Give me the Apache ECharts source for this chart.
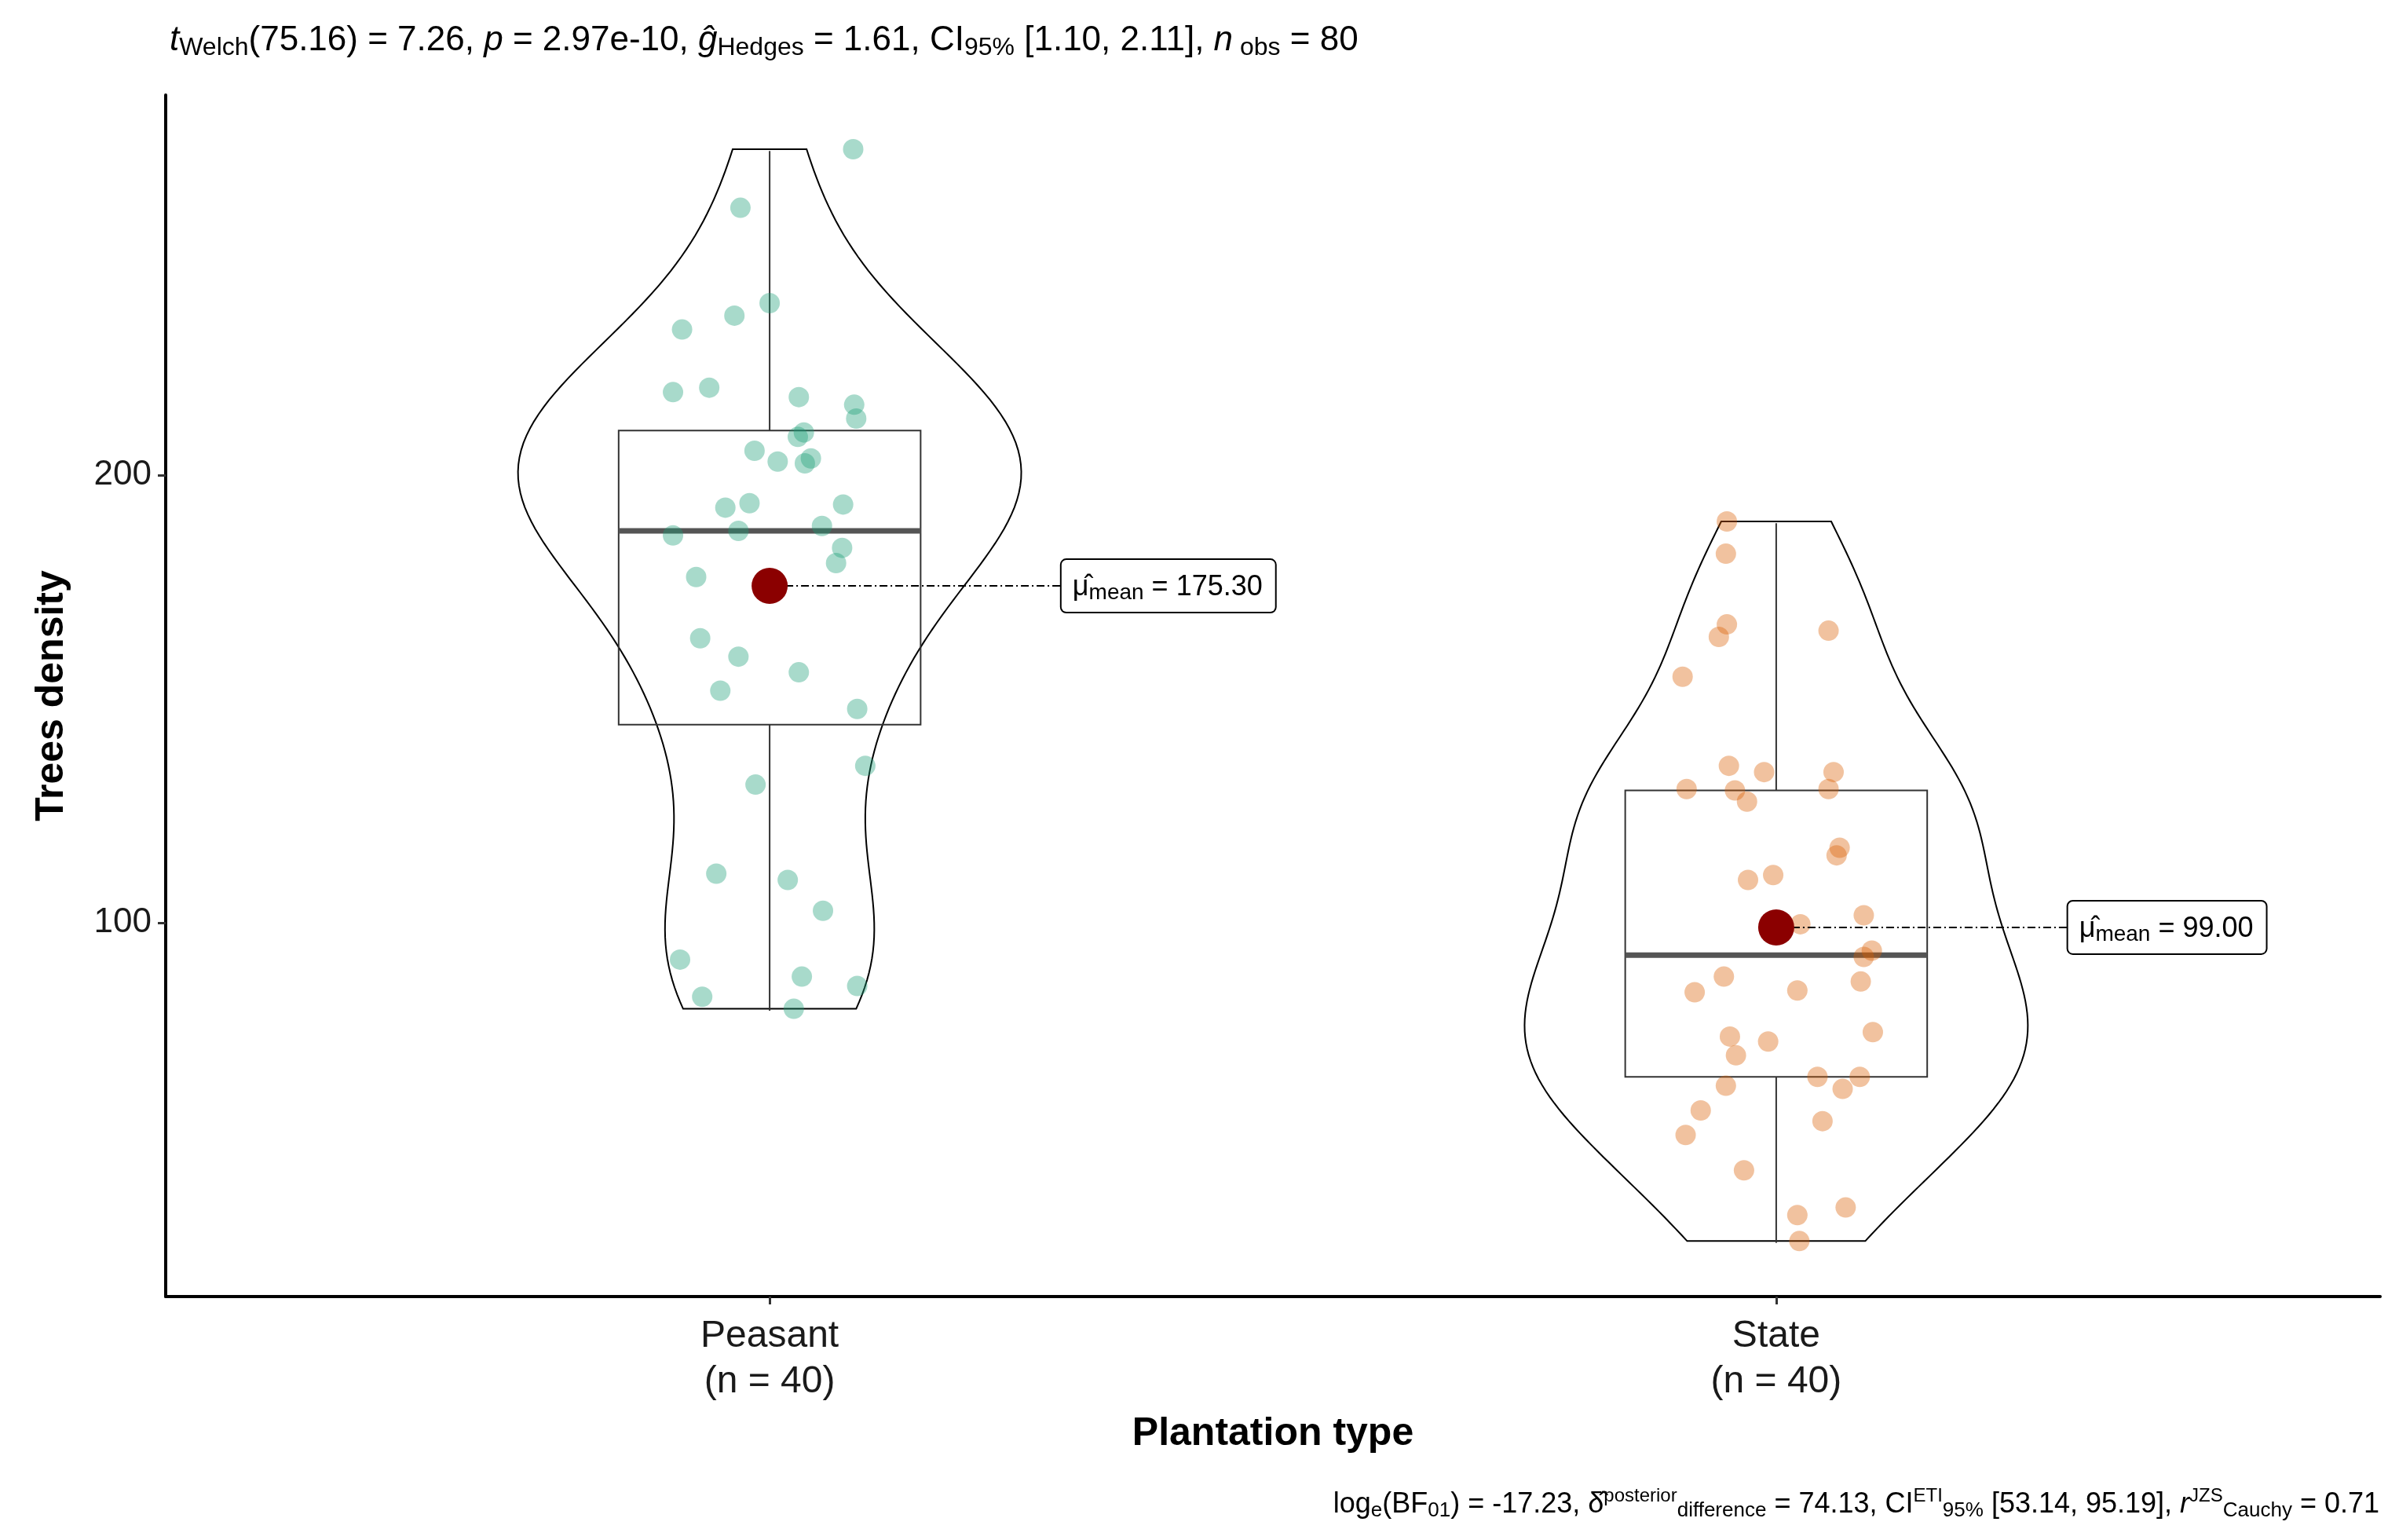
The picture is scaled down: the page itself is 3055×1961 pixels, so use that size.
<!DOCTYPE html>
<html><head><meta charset="utf-8">
<script src="https://cdn.jsdelivr.net/npm/echarts@6/dist/echarts.min.js"></script>
<style>html,body{margin:0;padding:0;background:#fff}#c{width:3055px;height:1961px}</style>
</head><body><div id="c"></div>
<script>
const categories = ['Peasant', 'State'];
const groupN = [40, 40];
const peasantY = [272.9,259.8,238.5,235.7,232.6,219.6,218.6,217.5,215.8,212.7,209.6,208.6,205.5,203.8,202.7,192.8,193.8,193.5,187.6,186.6,188.7,183.8,180.4,177.3,163.6,159.5,156.0,151.9,147.8,135.1,130.9,111.0,109.6,102.7,91.8,88.0,85.9,83.5,80.8,203.1];
const peasantJitter = [0.083,-0.029,0,-0.035,-0.087,-0.060,-0.096,0.029,0.084,0.086,0.034,0.028,-0.015,0.041,0.035,-0.044,-0.020,0.073,-0.031,-0.096,0.052,0.072,0.066,-0.073,-0.069,-0.031,0.029,-0.049,0.087,0.095,-0.014,-0.053,0.018,0.053,-0.089,0.032,0.087,-0.067,0.024,0.008];
const stateY = [189.7,182.5,166.7,163.9,165.3,155.0,135.1,133.7,133.7,129.9,129.6,129.9,127.1,116.8,115.1,109.6,110.7,99.7,101.7,93.8,92.4,86.9,88.0,84.5,84.9,74.6,73.5,75.6,70.4,65.6,65.6,63.6,62.9,58.1,55.7,52.6,44.7,36.4,34.7,28.9];
const stateJitter = [-0.049,-0.050,-0.049,-0.057,0.052,-0.093,-0.047,-0.012,0.057,-0.089,-0.041,0.052,-0.029,0.063,0.060,-0.028,-0.003,0.024,0.087,0.095,0.087,0.084,-0.052,-0.081,0.021,-0.046,-0.008,0.096,-0.040,0.041,0.083,-0.050,0.066,-0.075,0.046,-0.090,-0.032,0.069,0.021,0.023];
// box stats: [whiskerLow, Q1, median, Q3, whiskerHigh]
const boxStats = [[80.4,144.3,187.6,210.0,272.5],[28.5,65.6,92.8,129.6,189.3]];
const means = [175.30, 99.00];
const yTicks = [100, 200];
const colors = ['#1B9E77', '#D95F02'];
const FONT = 'Liberation Sans';

const groups = [peasantY, stateY];
const jitters = [peasantJitter, stateJitter];

function kde(vals){
  const n = vals.length, m = vals.reduce((a,b)=>a+b,0)/n;
  const sd = Math.sqrt(vals.reduce((a,b)=>a+(b-m)*(b-m),0)/(n-1));
  const s = vals.slice().sort((a,b)=>a-b);
  const q = p => { const h=(n-1)*p, l=Math.floor(h); return s[l]+(h-l)*(s[Math.min(l+1,n-1)]-s[l]); };
  const iqr = q(0.75)-q(0.25);
  const bw = 0.9*Math.min(sd, iqr/1.34)*Math.pow(n,-0.2);
  const lo=s[0], hi=s[n-1], pts=[];
  for(let i=0;i<=120;i++){ const y=lo+(hi-lo)*i/120; let d=0; for(const v of vals){const z=(y-v)/bw; d+=Math.exp(-0.5*z*z);} pts.push([y,d]); }
  const mx = Math.max(...pts.map(p=>p[1]));
  return pts.map(p=>[p[0], p[1]/mx*0.25]);
}
const violins = groups.map(kde);

const chart = echarts.init(document.getElementById('c'));
const scatterData = [[],[]];
groups.forEach((g,i)=>g.forEach((y,k)=>scatterData[i].push([i+1+jitters[i][k], y])));
const nw = 'normal';
chart.setOption({
  animation:false,
  textStyle:{fontFamily:FONT},
  title:[{
    left:211, top:22,
    text:'{i|t}{s|Welch}{n|(75.16) = 7.26, }{i|p}{n| = 2.97e-10, }{i|ĝ}{s|Hedges}{n| = 1.61, CI}{s|95%}{n| [1.10, 2.11], }{i|n}{s| obs}{n| = 80}',
    textStyle:{fontWeight:nw, rich:{n:{fontSize:44,fontWeight:nw,color:'#000',fontFamily:FONT},i:{fontSize:44,fontWeight:nw,fontStyle:'italic',color:'#000',fontFamily:FONT},s:{fontSize:32,fontWeight:nw,color:'#000',padding:[18,0,0,0],fontFamily:FONT}}}
  },{
    right:20, top:1888,
    text:'{n|log}{s|e}{n|(BF}{s|01}{n|) = -17.23, δ̂}{p|posterior}{s|difference}{n| = 74.13, CI}{p|ETI}{s|95%}{n| [53.14, 95.19], }{i|r}{p|JZS}{s|Cauchy}{n| = 0.71}',
    textStyle:{fontWeight:nw, rich:{n:{fontSize:36,fontWeight:nw,color:'#000',fontFamily:FONT},i:{fontSize:36,fontWeight:nw,fontStyle:'italic',color:'#000',fontFamily:FONT},s:{fontSize:26,fontWeight:nw,color:'#000',padding:[16,0,0,0],fontFamily:FONT},p:{fontSize:24,fontWeight:nw,color:'#000',padding:[0,0,22,0],fontFamily:FONT}}}
  }],
  grid:{left:211, right:24, top:121, bottom:310},
  xAxis:{type:'value', min:0.4, max:2.6, splitLine:{show:false},
    axisLine:{lineStyle:{color:'#000',width:4}},
    axisTick:{customValues:[1,2], length:10, lineStyle:{color:'#333',width:3}},
    axisLabel:{customValues:[1,2], margin:22, fontSize:48, color:'#1a1a1a', lineHeight:58, fontFamily:FONT,
      formatter:v=>{const i=Math.round(v)-1; return categories[i]+'\n(n = '+groupN[i]+')';}},
    name:'Plantation type', nameLocation:'middle', nameGap:150,
    nameTextStyle:{fontSize:50,fontWeight:'bold',color:'#000',fontFamily:FONT}
  },
  yAxis:{type:'value', min:16.5, max:285, splitLine:{show:false},
    axisLine:{show:true,lineStyle:{color:'#000',width:4}},
    axisTick:{show:true,customValues:yTicks,length:10,lineStyle:{color:'#333',width:3}},
    axisLabel:{customValues:yTicks, fontSize:44, color:'#1a1a1a', margin:18, fontFamily:FONT},
    name:'Trees density', nameLocation:'middle', nameGap:120,
    nameTextStyle:{fontSize:50,fontWeight:'bold',color:'#000',fontFamily:FONT}
  },
  series:[
    {type:'custom', z:1, data:[0,1], renderItem:(p,api)=>{
      const i=p.dataIndex, v=violins[i], c=i+1;
      const pts=v.map(d=>api.coord([c+d[1],d[0]])).concat(v.slice().reverse().map(d=>api.coord([c-d[1],d[0]])));
      return {type:'polygon', shape:{points:pts}, style:{fill:'none',stroke:'#000',lineWidth:2}};
    }},
    {type:'custom', z:2, data:[0,1], renderItem:(p,api)=>{
      const i=p.dataIndex, b=boxStats[i], c=i+1, hw=0.15;
      const P=(x,y)=>api.coord([x,y]);
      const q1=P(c-hw,b[1]), q3=P(c+hw,b[3]);
      return {type:'group', children:[
        {type:'line', shape:{x1:P(c,b[0])[0],y1:P(c,b[0])[1],x2:P(c,b[1])[0],y2:P(c,b[1])[1]}, style:{stroke:'#333',lineWidth:2}},
        {type:'line', shape:{x1:P(c,b[3])[0],y1:P(c,b[3])[1],x2:P(c,b[4])[0],y2:P(c,b[4])[1]}, style:{stroke:'#333',lineWidth:2}},
        {type:'rect', shape:{x:q1[0],y:q3[1],width:q3[0]-q1[0],height:q1[1]-q3[1]}, style:{fill:'none',stroke:'#333',lineWidth:2}},
        {type:'line', shape:{x1:q1[0],y1:P(c,b[2])[1],x2:q3[0],y2:P(c,b[2])[1]}, style:{stroke:'#555',lineWidth:7}}
      ]};
    }},
    {type:'scatter', z:3, data:scatterData[0], symbolSize:26, itemStyle:{color:colors[0],opacity:0.38}},
    {type:'scatter', z:3, data:scatterData[1], symbolSize:26, itemStyle:{color:colors[1],opacity:0.38}},
    {type:'custom', z:5, data:[0,1], renderItem:(p,api)=>{
      const i=p.dataIndex, c=i+1, m=means[i];
      const pt=api.coord([c,m]), lb=api.coord([c+0.29,m]);
      const txt='{h|μ̂}{s|mean}{n| = '+m.toFixed(2)+'}';
      return {type:'group', children:[
        {type:'line', shape:{x1:pt[0],y1:pt[1],x2:lb[0],y2:lb[1]}, style:{stroke:'#000',lineWidth:2,lineDash:[10,4,2,4]}},
        {type:'circle', shape:{cx:pt[0],cy:pt[1],r:23}, style:{fill:'#8B0000'}},
        {type:'text', x:lb[0], y:lb[1], style:{text:txt, verticalAlign:'middle', align:'left',
          backgroundColor:'#fff', borderColor:'#000', borderWidth:2, borderRadius:6, padding:[14,16,10,14],
          rich:{h:{fontSize:36,fill:'#000',fontFamily:FONT},n:{fontSize:36,fill:'#000',fontFamily:FONT},s:{fontSize:28,fill:'#000',padding:[14,0,0,0],fontFamily:FONT}}}}
      ]};
    }}
  ]
});
</script></body></html>
